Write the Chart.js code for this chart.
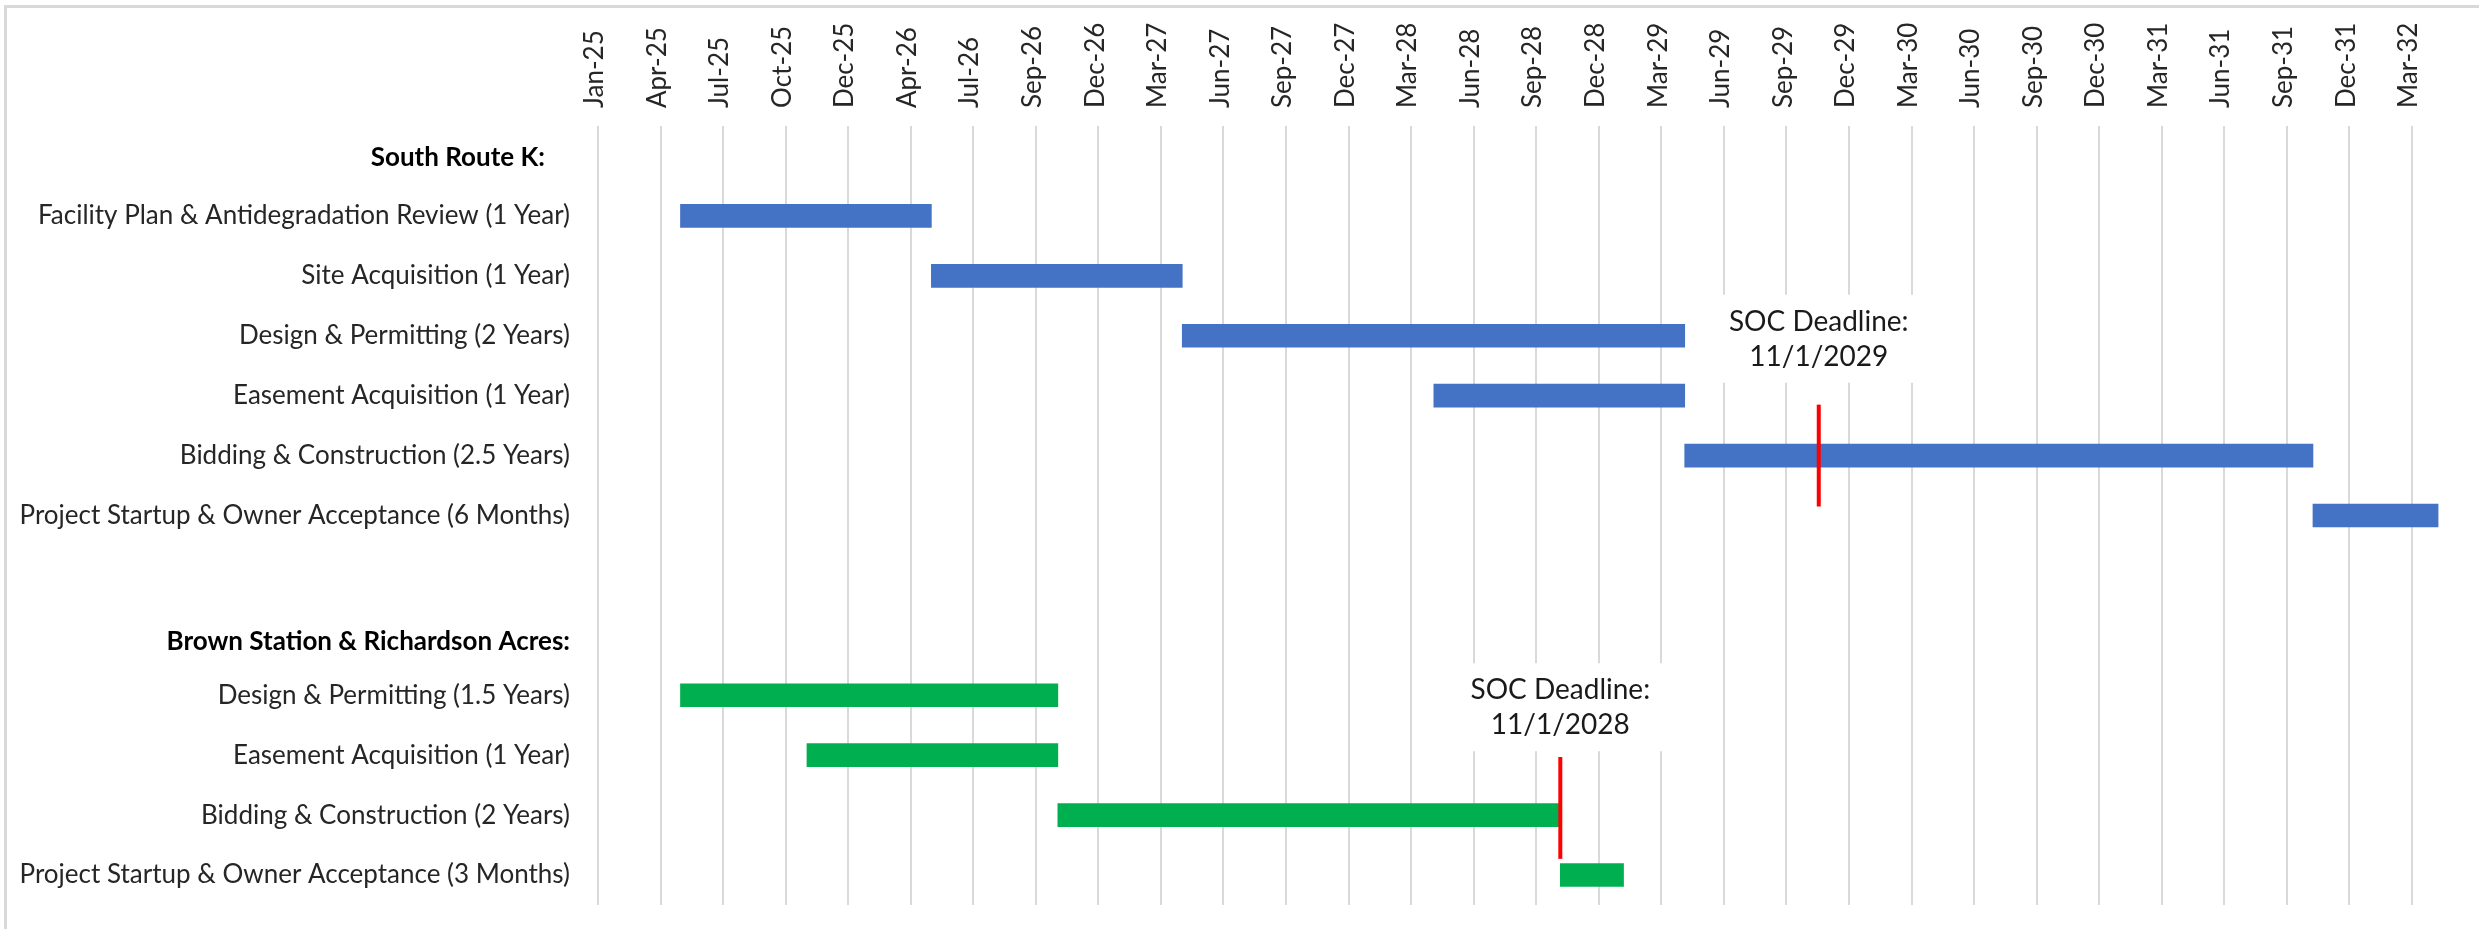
<!DOCTYPE html>
<html>
<head>
<meta charset="utf-8">
<script src="https://cdn.jsdelivr.net/npm/chart.js@4.4.1/dist/chart.umd.min.js"></script>
<style>
  html, body { margin: 0; background: #fff; }
  #wrap { width: 2479px; height: 929px; }
</style>
</head>
<body>
<div id="wrap"><canvas id="gantt" width="2479" height="929"></canvas></div>
<script>
/* ---------- 資料 ---------- */
const AXIS_START = '2025-01-01';
const AXIS_END   = '2032-06-15';
const MAJOR_DAYS = 91;   // Excel major unit

const tickLabels = ['Jan-25','Apr-25','Jul-25','Oct-25','Dec-25','Apr-26','Jul-26','Sep-26','Dec-26','Mar-27',
                    'Jun-27','Sep-27','Dec-27','Mar-28','Jun-28','Sep-28','Dec-28','Mar-29','Jun-29','Sep-29',
                    'Dec-29','Mar-30','Jun-30','Sep-30','Dec-30','Mar-31','Jun-31','Sep-31','Dec-31','Mar-32'];

const southHeader = 'South Route K:';
const southTasks  = ['Facility Plan & Antidegradation Review (1 Year)', 'Site Acquisition (1 Year)',
                     'Design & Permitting (2 Years)', 'Easement Acquisition (1 Year)',
                     'Bidding & Construction (2.5 Years)', 'Project Startup & Owner Acceptance (6 Months)'];
const southStart  = ['2025-05-01','2026-05-01','2027-05-01','2028-05-01','2029-05-01','2031-11-01'];
const southEnd    = ['2026-05-01','2027-05-01','2029-05-01','2029-05-01','2031-11-01','2032-05-01'];

const brownHeader = 'Brown Station & Richardson Acres:';
const brownTasks  = ['Design & Permitting (1.5 Years)', 'Easement Acquisition (1 Year)',
                     'Bidding & Construction (2 Years)', 'Project Startup & Owner Acceptance (3 Months)'];
const brownStart  = ['2025-05-01','2025-11-01','2026-11-01','2028-11-01'];
const brownEnd    = ['2026-11-01','2026-11-01','2028-11-01','2029-02-01'];

const deadlineDates = ['2029-11-12', '2028-11-01'];
const deadlineText  = [['SOC Deadline:', '11/1/2029'], ['SOC Deadline:', '11/1/2028']];

/* ---------- 轉換 ---------- */
const toDay = (s) => (new Date(s) - new Date(AXIS_START)) / 864e5;
const headers = [southHeader, brownHeader];
const labels  = [southHeader, ...southTasks, '', brownHeader, ...brownTasks];
const pad = (n) => Array(n).fill(null);
const pairs = (a, b) => a.map((s, i) => [toDay(s), toDay(b[i])]);

const blueData  = [null, ...pairs(southStart, southEnd), null, null, ...pad(brownTasks.length)];
const greenData = [null, ...pad(southTasks.length), null, null, ...pairs(brownStart, brownEnd)];

// row (category index) each deadline belongs to
const southBidRow = 1 + 4;
const brownBidRow = 1 + southTasks.length + 2 + 2;
const deadlineLayout = [
    { row: southBidRow, from: -0.85, to: 0.85, textRow: 3.05 },
    { row: brownBidRow, from: -0.97, to: 0.73, textRow: 9.2 }
];
// header labels: shift left (dx) / down (dy) from the normal tick position
const headerLayout = { [southHeader]: { dx: 25, dy: 2 }, [brownHeader]: { dx: 0, dy: 6 } };

const FONT = 'Lato, "Open Sans", sans-serif';
const Y_PAD = 28;

/* ---------- 外框 + 標題 + 截止線 ---------- */
const frame = {
    id: 'frame',
    beforeDraw(chart) {
        const { ctx, width, height } = chart;
        ctx.save();
        ctx.fillStyle = '#d9d9d9';
        ctx.fillRect(4, 5, width - 4, 3);
        ctx.fillRect(4, 5, 3, height - 5);
        ctx.restore();
    },
    afterDraw(chart) {
        const { ctx, scales: { y } } = chart;
        ctx.save();
        ctx.font = `bold 26px ${FONT}`;
        ctx.fillStyle = '#000';
        ctx.textAlign = 'right';
        ctx.textBaseline = 'middle';
        labels.forEach((l, i) => {
            if (!headers.includes(l)) return;
            const o = headerLayout[l];
            ctx.fillText(l, y.right - Y_PAD - o.dx, y.getPixelForValue(i) + o.dy);
        });
        ctx.restore();
    }
};

const deadlines = {
    id: 'deadlines',
    beforeDatasetsDraw(chart) {
        const { ctx, scales: { x, y } } = chart;
        ctx.save();
        ctx.font = `28px ${FONT}`;
        ctx.textAlign = 'center';
        ctx.textBaseline = 'middle';
        deadlineDates.forEach((d, i) => {
            const cx = x.getPixelForValue(toDay(d));
            const cy = y.getPixelForValue(deadlineLayout[i].textRow);
            const lines = deadlineText[i];
            const w = Math.max(...lines.map(t => ctx.measureText(t).width)) + 44;
            const h = 88;
            ctx.fillStyle = '#fff';
            ctx.fillRect(cx - w / 2, cy - h / 2, w, h);
            ctx.fillStyle = '#1a1a1a';
            ctx.fillText(lines[0], cx, cy - 17);
            ctx.fillText(lines[1], cx, cy + 18);
        });
        ctx.restore();
    },
    afterDatasetsDraw(chart) {
        const { ctx, scales: { x, y } } = chart;
        ctx.save();
        ctx.strokeStyle = '#ff0000';
        ctx.lineWidth = 4;
        deadlineDates.forEach((d, i) => {
            const L = deadlineLayout[i];
            const px = x.getPixelForValue(toDay(d));
            ctx.beginPath();
            ctx.moveTo(px, y.getPixelForValue(L.row + L.from));
            ctx.lineTo(px, y.getPixelForValue(L.row + L.to));
            ctx.stroke();
        });
        ctx.restore();
    }
};

/* ---------- 圖表 ---------- */
new Chart(document.getElementById('gantt'), {
    type: 'bar',
    data: {
        labels,
        datasets: [
            { label: 'South Route K', data: blueData,  backgroundColor: '#4472c4', grouped: false, barThickness: 23 },
            { label: 'Brown Station', data: greenData, backgroundColor: '#00b050', grouped: false, barThickness: 23 }
        ]
    },
    options: {
        indexAxis: 'y',
        responsive: false,
        animation: false,
        layout: { padding: { left: 0, top: 0, right: 10, bottom: 24 } },
        plugins: { legend: { display: false }, tooltip: { enabled: false } },
        scales: {
            x: {
                type: 'linear',
                position: 'top',
                min: 0,
                max: toDay(AXIS_END),
                afterBuildTicks: (axis) => { axis.ticks = tickLabels.map((_, i) => ({ value: i * MAJOR_DAYS })); },
                afterFit: (axis) => { axis.height = 126; axis.paddingLeft = 0; axis.paddingRight = 0; },
                ticks: {
                    autoSkip: false,
                    minRotation: 90,
                    maxRotation: 90,
                    padding: 18,
                    labelOffset: 28,
                    color: '#262626',
                    font: { family: FONT, size: 26 },
                    callback: (v, i) => tickLabels[i]
                },
                grid: { color: '#d9d9d9', lineWidth: 2, drawTicks: false },
                border: { display: false }
            },
            y: {
                afterFit: (axis) => { axis.width = 598; axis.paddingTop = 0; axis.paddingBottom = 0; },
                ticks: {
                    autoSkip: false,
                    padding: Y_PAD,
                    color: '#262626',
                    font: { family: FONT, size: 26 },
                    callback: (v, i) => headers.includes(labels[i]) ? '' : labels[i]
                },
                grid: { display: false, drawTicks: false },
                border: { display: false }
            }
        }
    },
    plugins: [frame, deadlines]
});
</script>
</body>
</html>
